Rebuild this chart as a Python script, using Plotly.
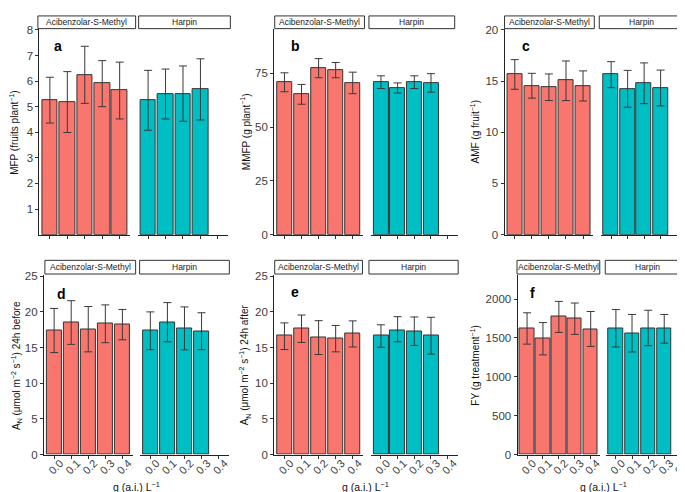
import plotly.graph_objects as go

W, H = 685, 492

doses = ["0.0", "0.1", "0.2", "0.3", "0.4"]
treatments = ["Acibenzolar-S-Methyl", "Harpin"]
colors = ["#F8766D", "#00BFC4"]

# a: MFP
mfp_asm = [5.25, 5.18, 6.25, 5.91, 5.63]
mfp_asm_lo = [4.36, 3.99, 5.13, 5.00, 4.52]
mfp_asm_hi = [6.15, 6.37, 7.36, 6.80, 6.74]
mfp_har = [5.25, 5.50, 5.50, 5.67]
mfp_har_lo = [4.08, 4.52, 4.43, 4.48]
mfp_har_hi = [6.42, 6.47, 6.59, 6.87]

# b: MMFP
mmfp_asm = [70.9, 65.2, 77.3, 76.4, 70.6]
mmfp_asm_lo = [66.4, 60.6, 72.9, 72.9, 65.5]
mmfp_asm_hi = [75.2, 69.8, 81.8, 80.0, 75.5]
mmfp_har = [70.9, 68.0, 70.9, 70.6]
mmfp_har_lo = [67.9, 65.8, 67.9, 66.2]
mmfp_har_hi = [73.8, 70.5, 73.8, 74.8]

# c: AMF
amf_asm = [15.67, 14.55, 14.43, 15.06, 14.52]
amf_asm_lo = [14.20, 13.34, 13.10, 13.10, 13.06]
amf_asm_hi = [17.10, 15.76, 15.70, 16.97, 16.00]
amf_har = [15.67, 14.24, 14.78, 14.36]
amf_har_lo = [14.36, 12.45, 12.80, 12.58]
amf_har_hi = [16.90, 16.05, 16.78, 16.08]

# d: AN 24h before
anb_asm = [17.37, 18.50, 17.60, 18.33, 18.19]
anb_asm_lo = [14.30, 15.45, 14.40, 15.68, 16.09]
anb_asm_hi = [20.48, 21.57, 20.75, 20.98, 20.34]
anb_har = [17.37, 18.56, 17.69, 17.32]
anb_har_lo = [14.70, 15.80, 14.67, 14.70]
anb_har_hi = [20.00, 21.30, 20.70, 19.88]

# e: AN 24h after
ana_asm = [16.64, 17.69, 16.40, 16.27, 16.96]
ana_asm_lo = [14.72, 15.72, 14.03, 14.40, 15.08]
ana_asm_hi = [18.46, 19.56, 18.77, 18.10, 18.74]
ana_har = [16.64, 17.42, 17.28, 16.64]
ana_har_lo = [15.04, 15.80, 15.30, 14.08]
ana_har_hi = [18.19, 19.33, 19.29, 19.24]

# f: FY
fy_asm = [1627, 1488, 1774, 1748, 1614]
fy_asm_lo = [1421, 1283, 1572, 1547, 1392]
fy_asm_hi = [1824, 1698, 1971, 1950, 1841]
fy_har = [1627, 1564, 1627, 1618]
fy_har_lo = [1384, 1321, 1400, 1434]
fy_har_hi = [1866, 1803, 1857, 1803]

panels = [
    dict(letter="a", ytitle="MFP (fruits plant<sup>−1</sup>)", yrange=[0, 8.03],
         tickvals=[1, 2, 3, 4, 5, 6, 7, 8],
         data=[(mfp_asm, mfp_asm_lo, mfp_asm_hi), (mfp_har, mfp_har_lo, mfp_har_hi)],
         f1=(31.5, 122.5), f2=(130, 221), ys=(16.5, 226.7),
         s1=(30, 128), s2=(131, 223), sy=(3, 16), ytx=6, letxy=(50, 34), bottom=False),
    dict(letter="b", ytitle="MMFP (g plant<sup>−1</sup>)", yrange=[0, 95.5],
         tickvals=[0, 25, 50, 75],
         data=[(mmfp_asm, mmfp_asm_lo, mmfp_asm_hi), (mmfp_har, mmfp_har_lo, mmfp_har_hi)],
         f1=(267, 356), f2=(364, 451), ys=(16.5, 226.7),
         s1=(267.5, 357.5), s2=(362, 448), sy=(3, 16), ytx=238, letxy=(288, 34), bottom=False),
    dict(letter="c", ytitle="AMF (g fruit<sup>−1</sup>)", yrange=[0, 20.08],
         tickvals=[0, 5, 10, 15, 20],
         data=[(amf_asm, amf_asm_lo, amf_asm_hi), (amf_har, amf_har_lo, amf_har_hi)],
         f1=(498, 587), f2=(595, 681), ys=(16.5, 226.7),
         s1=(498, 588), s2=(593, 678), sy=(3, 16), ytx=468, letxy=(520, 34), bottom=False),
    dict(letter="d", ytitle="A<sub>N</sub> (μmol m<sup>−2</sup> s<sup>−1</sup>) 24h before", yrange=[0, 25.1],
         tickvals=[0, 5, 10, 15, 20, 25],
         data=[(anb_asm, anb_asm_lo, anb_asm_hi), (anb_har, anb_har_lo, anb_har_hi)],
         f1=(36, 125), f2=(132.5, 221.5), ys=(268.5, 451.7),
         s1=(37, 128), s2=(132, 222), sy=(253, 267), ytx=8, letxy=(54, 287), bottom=True),
    dict(letter="e", ytitle="A<sub>N</sub> (μmol m<sup>−2</sup> s<sup>−1</sup>) 24h after", yrange=[0, 25.1],
         tickvals=[0, 5, 10, 15, 20, 25],
         data=[(ana_asm, ana_asm_lo, ana_asm_hi), (ana_har, ana_har_lo, ana_har_hi)],
         f1=(267, 356), f2=(364, 451), ys=(268.5, 451.7),
         s1=(267.5, 355.5), s2=(362, 451.5), sy=(253, 267), ytx=237, letxy=(288, 285), bottom=True),
    dict(letter="f", ytitle="FY (g treatment<sup>−1</sup>)", yrange=[0, 2304],
         tickvals=[0, 500, 1000, 1500, 2000],
         data=[(fy_asm, fy_asm_lo, fy_asm_hi), (fy_har, fy_har_lo, fy_har_hi)],
         f1=(511, 594), f2=(600, 684), ys=(268.5, 451.7),
         s1=(510.5, 593.5), s2=(599, 683.5), sy=(253, 267), ytx=468, letxy=(526, 286), bottom=True),
]

def px(x):
    return x / W

def py(y):
    return 1 - y / H

fig = go.Figure()
layout = {}
shapes = []
annotations = []

TXT = "#3d3d3d"
LINE = "#222222"
FONT = "Liberation Sans, Arial"

n = 0
for p in panels:
    for k in range(2):
        n += 1
        suffix = "" if n == 1 else str(n)
        means, lo, hi = p["data"][k]
        xs = doses[:len(means)]
        fig.add_trace(go.Bar(
            x=xs, y=means, width=0.9,
            marker=dict(color=colors[k], line=dict(color="#333333", width=1)),
            error_y=dict(type="data", symmetric=False,
                         array=[h - m for h, m in zip(hi, means)],
                         arrayminus=[m - l for m, l in zip(means, lo)],
                         color="#3a3a3a", thickness=1, width=4),
            xaxis="x" + suffix, yaxis="y" + suffix, showlegend=False,
            hoverinfo="skip",
        ))
        fx = p["f1"] if k == 0 else p["f2"]
        layout["xaxis" + suffix] = dict(
            domain=[px(fx[0]), px(fx[1])], anchor="y" + suffix,
            type="category", categoryorder="array", categoryarray=doses,
            range=[-0.6, 4.6], showline=True, linecolor=LINE, linewidth=1,
            ticks="outside", ticklen=3, tickcolor="#333333", tickwidth=1,
            showgrid=False, zeroline=False,
            showticklabels=p["bottom"], tickangle=-45,
            tickfont=dict(family=FONT, size=11, color=TXT),
            ticklabelshift=6, ticklabelstandoff=-6,
            fixedrange=True,
        )
        layout["yaxis" + suffix] = dict(
            domain=[py(p["ys"][1]), py(p["ys"][0])], anchor="x" + suffix,
            range=p["yrange"], tickvals=p["tickvals"],
            showline=(k == 0), linecolor=LINE, linewidth=1,
            ticks="outside" if k == 0 else "", ticklen=3, tickcolor="#333333", tickwidth=1,
            showticklabels=(k == 0), showgrid=False, zeroline=False,
            tickfont=dict(family=FONT, size=11.5, color=TXT),
            fixedrange=True,
        )
        s = p["s1"] if k == 0 else p["s2"]
        shapes.append(dict(type="rect", xref="paper", yref="paper",
                           x0=px(s[0]), x1=px(s[1]), y0=py(p["sy"][1]), y1=py(p["sy"][0]),
                           line=dict(color="#333333", width=1), fillcolor="white"))
        annotations.append(dict(xref="paper", yref="paper", x=px((s[0] + s[1]) / 2),
                                y=py((p["sy"][0] + p["sy"][1]) / 2), text=treatments[k],
                                showarrow=False, xanchor="center", yanchor="middle",
                                font=dict(family=FONT, size=8.5, color="#1A1A1A")))
    # y title
    ymid = (p["ys"][0] + p["ys"][1]) / 2
    annotations.append(dict(xref="paper", yref="paper", x=px(p["ytx"]), y=py(ymid),
                            text=p["ytitle"], textangle=-90, showarrow=False,
                            xanchor="center", yanchor="middle",
                            font=dict(family=FONT, size=10, color="#111111")))
    # panel letter
    annotations.append(dict(xref="paper", yref="paper", x=px(p["letxy"][0]), y=py(p["letxy"][1]),
                            text="<b>" + p["letter"] + "</b>", showarrow=False,
                            xanchor="center", yanchor="middle",
                            font=dict(family=FONT, size=14, color="black")))
    if p["bottom"]:
        xc = (p["f1"][0] + p["f2"][1]) / 2
        annotations.append(dict(xref="paper", yref="paper", x=px(xc), y=py(484),
                                text="g (a.i.) L<sup>−1</sup>", showarrow=False,
                                xanchor="center", yanchor="middle",
                                font=dict(family=FONT, size=10.5, color="#111111")))

fig.update_layout(
    width=W, height=H,
    margin=dict(l=0, r=0, t=0, b=0),
    paper_bgcolor="white", plot_bgcolor="white",
    bargap=0, showlegend=False,
    shapes=shapes, annotations=annotations,
    **layout,
)

fig.write_html("out.html")
